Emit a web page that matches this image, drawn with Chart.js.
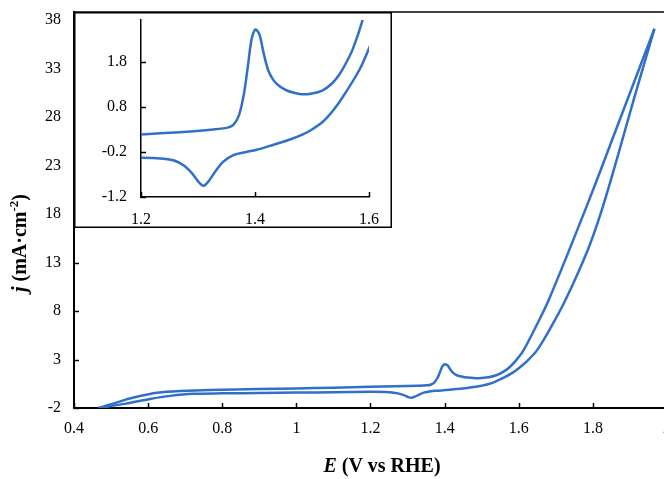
<!DOCTYPE html>
<html>
<head>
<meta charset="utf-8">
<script src="https://cdn.jsdelivr.net/npm/chart.js@4"></script>
<style>
  html, body { margin: 0; padding: 0; width: 664px; height: 479px; overflow: hidden; background: #fff; }
  #main { position: absolute; left: 0; top: 0; }
  #inset { position: absolute; left: 74px; top: 12px; background: #fff; }
</style>
</head>
<body>
<canvas id="main" width="700" height="479"></canvas>
<canvas id="inset" width="318" height="216"></canvas>
<script>
// anodic (forward) scan
const forwardE = [0.466, 0.50, 0.55, 0.605, 0.65, 0.686, 0.767, 0.9, 1.0, 1.1, 1.2, 1.268, 1.327, 1.352, 1.362, 1.372, 1.381, 1.388, 1.394, 1.401, 1.408, 1.415, 1.423, 1.432, 1.442, 1.455, 1.47, 1.484, 1.5, 1.519, 1.535, 1.548, 1.56, 1.572, 1.588, 1.612, 1.645, 1.68, 1.79, 1.872, 1.966];
const forwardJ = [-2.0, -1.62, -1.02, -0.55, -0.33, -0.24, -0.14, -0.05, 0.02, 0.1, 0.19, 0.24, 0.30, 0.34, 0.40, 0.62, 1.12, 1.75, 2.3, 2.52, 2.4, 2.0, 1.62, 1.4, 1.27, 1.17, 1.11, 1.08, 1.1, 1.17, 1.32, 1.52, 1.78, 2.1, 2.7, 3.89, 6.3, 9.05, 19.46, 27.67, 37.1];
// cathodic (reverse) scan
const reverseE = [1.966, 1.91, 1.864, 1.824, 1.786, 1.725, 1.685, 1.648, 1.62, 1.6, 1.583, 1.554, 1.537, 1.519, 1.5, 1.484, 1.46, 1.43, 1.403, 1.38, 1.362, 1.344, 1.33, 1.318, 1.31, 1.302, 1.29, 1.274, 1.258, 1.24, 1.2, 1.1, 1.0, 0.9, 0.8, 0.72, 0.66, 0.605, 0.54, 0.466];
const reverseJ = [37.1, 29.77, 23.55, 18.4, 14.27, 9.05, 6.2, 3.89, 2.75, 2.1, 1.62, 1.02, 0.72, 0.47, 0.3, 0.19, 0.07, -0.05, -0.15, -0.21, -0.27, -0.42, -0.64, -0.86, -0.95, -0.88, -0.68, -0.49, -0.39, -0.35, -0.33, -0.37, -0.41, -0.45, -0.49, -0.54, -0.75, -1.07, -1.55, -2.0];

const mainXTicks = [0.4, 0.6, 0.8, 1.0, 1.2, 1.4, 1.6, 1.8, 2.0];
const mainYTicks = [-2, 3, 8, 13, 18, 23, 28, 33, 38];
const insetXTicks = [1.2, 1.4, 1.6];
const insetYTicks = [-1.2, -0.2, 0.8, 1.8];

const blue = '#3070c8';
const serif = "'Liberation Serif', 'DejaVu Serif', serif";

function pts(xs, ys) { return xs.map((x, i) => ({ x: x, y: ys[i] })); }
function fmt(v) { return String(+v.toFixed(1)); }
function noPad(s) { s.paddingTop = 0; s.paddingBottom = 0; s.paddingLeft = 0; s.paddingRight = 0; }

function datasets(w) {
  return [
    { data: pts(forwardE, forwardJ), borderColor: blue, borderWidth: w, showLine: true, pointRadius: 0, tension: 0.3, fill: false },
    { data: pts(reverseE, reverseJ), borderColor: blue, borderWidth: w, showLine: true, pointRadius: 0, tension: 0.3, fill: false }
  ];
}

// tick marks pointing into the plot
const inwardTicks = {
  id: 'inwardTicks',
  afterDraw(chart, args, opts) {
    const ctx = chart.ctx, a = chart.chartArea, len = opts.len || 5;
    ctx.save();
    ctx.strokeStyle = '#000';
    ctx.lineWidth = opts.width || 1.5;
    chart.scales.x.ticks.forEach(t => {
      const px = Math.round(chart.scales.x.getPixelForValue(t.value)) + 0.5;
      ctx.beginPath(); ctx.moveTo(px, a.bottom); ctx.lineTo(px, a.bottom - len); ctx.stroke();
    });
    chart.scales.y.ticks.forEach(t => {
      const py = Math.round(chart.scales.y.getPixelForValue(t.value)) + 0.5;
      ctx.beginPath(); ctx.moveTo(a.left, py); ctx.lineTo(a.left + len, py); ctx.stroke();
    });
    ctx.restore();
  }
};

const mainExtras = {
  id: 'mainExtras',
  afterDraw(chart) {
    const ctx = chart.ctx, a = chart.chartArea;
    ctx.save();
    // frame line at the top
    ctx.strokeStyle = '#000';
    ctx.lineWidth = 1.5;
    ctx.beginPath(); ctx.moveTo(a.left, a.top); ctx.lineTo(chart.width, a.top); ctx.stroke();
    ctx.fillStyle = '#000';
    ctx.textBaseline = 'middle';
    // x title
    const size = 20;
    const xParts = [['italic bold', 'E'], ['bold', ' (V vs RHE)']];
    let total = 0;
    xParts.forEach(p => { ctx.font = p[0] + ' ' + size + 'px ' + serif; total += ctx.measureText(p[1]).width; });
    let x = 382 - total / 2;
    xParts.forEach(p => { ctx.font = p[0] + ' ' + size + 'px ' + serif; ctx.fillText(p[1], x, 467); x += ctx.measureText(p[1]).width; });
    // y title, rotated
    ctx.translate(21, 243);
    ctx.rotate(-Math.PI / 2);
    const yParts = [['italic bold', size, 'j', 0], ['bold', size, ' (mA\u00B7cm', 0], ['bold', 13, '-2', -6], ['bold', size, ')', 0]];
    total = 0;
    yParts.forEach(p => { ctx.font = p[0] + ' ' + p[1] + 'px ' + serif; total += ctx.measureText(p[2]).width; });
    x = -total / 2;
    yParts.forEach(p => { ctx.font = p[0] + ' ' + p[1] + 'px ' + serif; ctx.fillText(p[2], x, p[3]); x += ctx.measureText(p[2]).width; });
    ctx.restore();
  }
};

const insetFrame = {
  id: 'insetFrame',
  afterDraw(chart) {
    const ctx = chart.ctx;
    ctx.save();
    ctx.strokeStyle = '#000';
    ctx.lineWidth = 1.5;
    ctx.strokeRect(0.75, 0.75, chart.width - 1.5, chart.height - 1.5);
    ctx.restore();
  }
};

new Chart(document.getElementById('main'), {
  type: 'scatter',
  data: { datasets: datasets(2.5) },
  plugins: [inwardTicks, mainExtras],
  options: {
    responsive: false,
    animation: false,
    layout: { padding: { top: 12, right: 33, left: 0, bottom: 0 } },
    plugins: { legend: { display: false }, tooltip: { enabled: false }, inwardTicks: { len: 5, width: 1.5 } },
    scales: {
      x: {
        type: 'linear', min: 0.4, max: 2.0,
        afterBuildTicks: s => { s.ticks = mainXTicks.map(v => ({ value: v })); },
        afterFit: s => { s.height = 71; noPad(s); },
        grid: { drawOnChartArea: false, drawTicks: false },
        border: { display: true, color: '#000', width: 2 },
        ticks: { padding: 11, color: '#000', font: { family: serif, size: 16 }, callback: v => fmt(v), maxRotation: 0 }
      },
      y: {
        type: 'linear', min: -2, max: 38.83,
        afterBuildTicks: s => { s.ticks = mainYTicks.map(v => ({ value: v })); },
        afterFit: s => { s.width = 74; noPad(s); },
        grid: { drawOnChartArea: false, drawTicks: false },
        border: { display: true, color: '#000', width: 2 },
        ticks: { padding: 13, color: '#000', font: { family: serif, size: 16 }, callback: v => fmt(v) }
      }
    }
  }
});

new Chart(document.getElementById('inset'), {
  type: 'scatter',
  data: { datasets: datasets(2.5) },
  plugins: [inwardTicks, insetFrame],
  options: {
    responsive: false,
    animation: false,
    layout: { padding: { top: 8, right: 23, left: 0, bottom: 0 } },
    plugins: { legend: { display: false }, tooltip: { enabled: false }, inwardTicks: { len: 5, width: 1.5 } },
    scales: {
      x: {
        type: 'linear', min: 1.2, max: 1.6,
        afterBuildTicks: s => { s.ticks = insetXTicks.map(v => ({ value: v })); },
        afterFit: s => { s.height = 31; noPad(s); },
        grid: { drawOnChartArea: false, drawTicks: false },
        border: { display: true, color: '#000', width: 1.5 },
        ticks: { padding: 13, color: '#000', font: { family: serif, size: 16 }, callback: v => fmt(v), maxRotation: 0 }
      },
      y: {
        type: 'linear', min: -1.2, max: 2.73,
        afterBuildTicks: s => { s.ticks = insetYTicks.map(v => ({ value: v })); },
        afterFit: s => { s.width = 67; noPad(s); },
        grid: { drawOnChartArea: false, drawTicks: false },
        border: { display: true, color: '#000', width: 1.5 },
        ticks: { padding: 14, color: '#000', font: { family: serif, size: 16 }, callback: v => fmt(v) }
      }
    }
  }
});
</script>
</body>
</html>
